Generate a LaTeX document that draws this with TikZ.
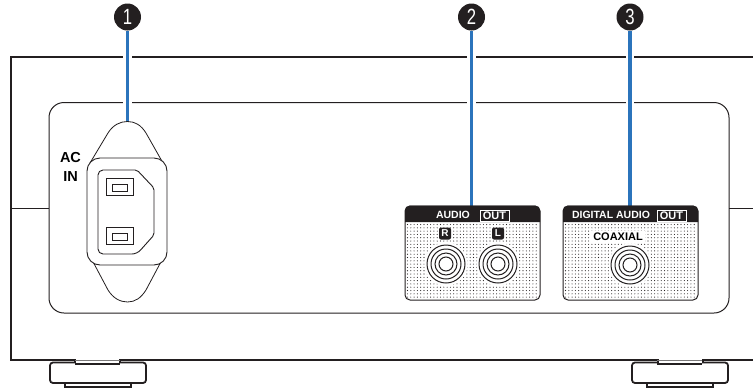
\documentclass[tikz,border=0pt]{standalone}
\usepackage{fontspec}
\setmainfont{Liberation Sans}
\newfontfamily\numfont[FakeStretch=0.76]{Liberation Sans}
\usepackage{tikz}
\definecolor{leaderblue}{HTML}{2B74BC}
\definecolor{badgeblack}{HTML}{231F20}
\tikzset{
    numbadge/.style={circle, fill=badgeblack, text=white, inner sep=0pt, minimum size=27pt, font=\numfont\fontsize{22}{22}\selectfont},
    leader/.style={draw=leaderblue, line width=3.5pt, preaction={draw=white, line width=8.5pt}},
    chassis/.style={draw=badgeblack, line width=2pt, line join=miter},
    thinline/.style={draw=badgeblack, line width=1pt},
    footline/.style={draw=badgeblack, line width=1.8pt, rounded corners=3pt},
    panellabel/.style={inner sep=0pt, font=\bfseries\fontsize{14.5}{14.5}\selectfont},
    headlabel/.style={inner sep=0pt, text=white, font=\bfseries\fontsize{10.5}{10.5}\selectfont},
    outbox/.style={draw=white, line width=0.9pt, text=white, inner sep=0pt, minimum width=29pt, minimum height=11pt, font=\bfseries\fontsize{11}{11}\selectfont},
    chanbadge/.style={fill=badgeblack, text=white, rounded corners=2pt, inner sep=0pt, minimum size=12pt, font=\bfseries\fontsize{10}{10}\selectfont},
}
\begin{document}
\begin{tikzpicture}[x=1pt, y=-1pt]
    \useasboundingbox (0,0) rectangle (753,389);

    % chassis and panel
    \draw[chassis] (753,57) -- (11,57) -- (11,359.5) -- (75,359.5) -- (75,363);
    \draw[chassis] (120,363) -- (120,359.5) -- (658,359.5) -- (658,363);
    \draw[chassis] (703,363) -- (703,359.5) -- (753,359.5);
    \draw[thinline, rounded corners=15pt] (49,102.5) rectangle (729,313);
    \draw[thinline] (11,208) -- (49,208);
    \draw[thinline] (729,208) -- (753,208);

    % feet
    \foreach \footx in {50,632} {
        \draw[footline] (\footx+25,362.5) -- (\footx,362.5) -- (\footx,383) -- (\footx+96,383) -- (\footx+96,362.5) -- (\footx+70,362.5);
        \draw[draw=badgeblack, line width=1.4pt] (\footx+15,383) -- (\footx+15,387) -- (\footx+81,387) -- (\footx+81,383);
        \draw[draw=badgeblack!60, line width=0.8pt] (\footx+25,360.8) -- (\footx+70,360.8);
        \draw[draw=badgeblack, line width=1.2pt] (\footx+25,364) -- (\footx+70,364);
    }

    % callouts
    \coordinate(inlettop) at (127.5,121.5);
    \coordinate(audiotop) at (471.5,206);
    \coordinate(digitaltop) at (630,206);
    \node(one) [numbadge] at (127.5,17) {1};
    \node(two) [numbadge] at (471.5,17) {2};
    \node(three) [numbadge] at (630,17) {3};
    \draw[leader] (one) -- (inlettop);
    \draw[leader] (two) -- (audiotop);
    \draw[leader] (three) -- (digitaltop);

    % AC inlet
    \draw[thinline, line width=0.8pt] (90,163) -- (108,133) .. controls (113,125) and (120,121.5) .. (127.5,121.5) .. controls (135,121.5) and (141,125) .. (146,133) -- (163,163);
    \draw[thinline, line width=0.8pt] (91,258) -- (108,290) .. controls (113,298) and (120,302) .. (127.5,302) .. controls (135,302) and (141,298) .. (146,290) -- (163,258);
    \draw[thinline, fill=white, line width=0.9pt, rounded corners=13pt] (87,158) rectangle (167,265);
    \draw[thinline, line width=0.9pt, rounded corners=5pt] (137,170) -- (98,170) -- (98,254) -- (137,254) [rounded corners=2pt] -- (154,235) -- (154,188) -- cycle;
    \foreach \piny in {178,227} {
        \draw[thinline, line width=0.8pt] (106,\piny) rectangle (133,\piny+17.5);
        \draw[thinline, line width=0.8pt] (112,\piny+6) rectangle (127,\piny+13);
    }
    \node(ac) [panellabel] at (70.5,158) {AC};
    \node(in) [panellabel] at (70.5,176.5) {IN};

    % jack blocks
    \foreach \blockx in {405,563} {
        \foreach \dotx in {2.5,5.8,...,134} {
            \foreach \doty in {224.5,227.8,...,299} {
                \fill[badgeblack] (\blockx+\dotx,\doty) circle (0.55pt);
            }
        }
    }
    \foreach \jackx/\jacky in {446/264,498/264,630/265} {
        \fill[white] (\jackx,\jacky) circle (21.5pt);
        \foreach \jackr in {19,15,11,7} {
            \draw[thinline] (\jackx,\jacky) circle (\jackr pt);
        }
    }
    \foreach \blockx in {405,563} {
        \draw[thinline, rounded corners=5pt] (\blockx,206) rectangle (\blockx+135,300);
        \fill[badgeblack] (\blockx,222) [rounded corners=5pt] -- (\blockx,205.5) -- (\blockx+135,205.5) [sharp corners] -- (\blockx+135,222) -- cycle;
    }

    % jack labels
    \node(audio) [headlabel] at (453,215) {AUDIO};
    \node(audioout) [outbox] at (494.5,216) {OUT};
    \node(digital) [headlabel] at (611,215) {DIGITAL AUDIO};
    \node(digitalout) [outbox] at (671.5,216) {OUT};
    \node(chanr) [chanbadge] at (445,233.5) {R};
    \node(chanl) [chanbadge] at (498,233.5) {L};
    \node(coaxial) [panellabel, fill=white, inner xsep=2pt, inner ysep=2pt, font=\bfseries\fontsize{11}{11}\selectfont] at (618,237) {COAXIAL};
\end{tikzpicture}
\end{document}
